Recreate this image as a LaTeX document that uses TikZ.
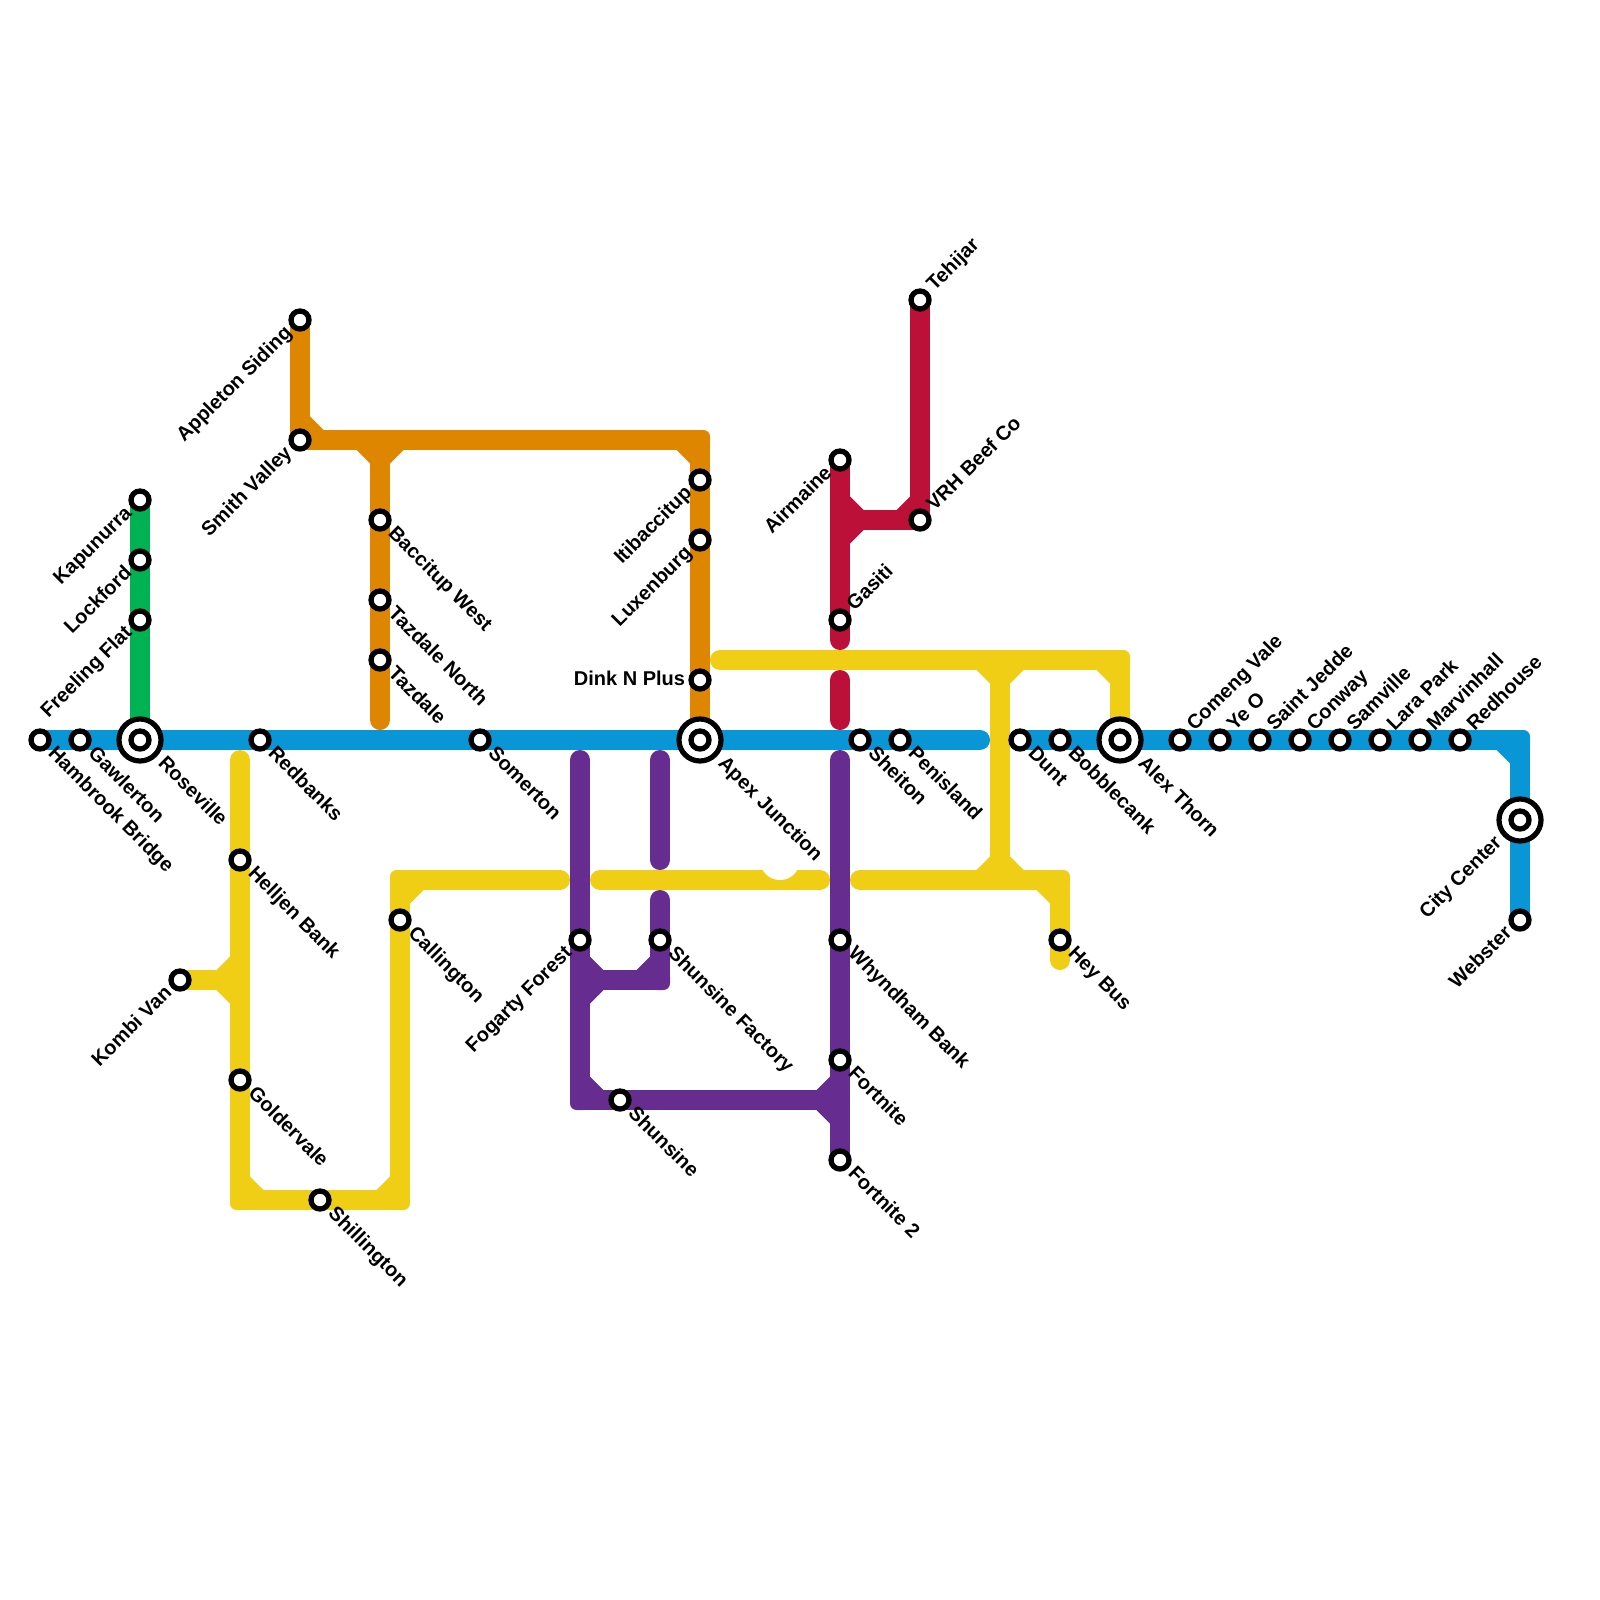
\documentclass[tikz,border=0pt]{standalone}
\usepackage{fontspec}
\setmainfont{Liberation Sans}
\pgfdeclarelayer{lines}
\pgfsetlayers{lines,main}
\definecolor{lineblue}{HTML}{0896D7}
\definecolor{lineyellow}{HTML}{F0CE15}
\definecolor{lineorange}{HTML}{DF8600}
\definecolor{linegreen}{HTML}{00B251}
\definecolor{linepurple}{HTML}{662C90}
\definecolor{linered}{HTML}{BD1038}
\tikzset{
  track/.style={line width=10pt,line cap=round,line join=round},
  stationdot/.style={circle,draw=black,fill=white,line width=2.65pt,minimum size=9pt,inner sep=0pt,outer sep=0pt},
  hubring/.style={circle,draw=black,fill=white,line width=2.6pt,minimum size=21pt,inner sep=0pt,outer sep=0pt},
  lblbase/.style={font=\bfseries\fontsize{10}{12}\selectfont,inner sep=0pt,outer sep=0pt},
  lblse/.style={lblbase,rotate=-45,anchor=mid west},
  lblne/.style={lblbase,rotate=45,anchor=mid west},
  lblsw/.style={lblbase,rotate=45,anchor=mid east},
  lblw/.style={lblbase,anchor=mid east},
}
\def\offse{11,11}\def\offne{11,-12}\def\offsw{-11,10.5}\def\offw{-15,0}
\def\bigoffse{21,21}\def\bigoffsw{-21,20}
\newcommand{\stn}[5]{%
  \node[stationdot] (#1) at (#2,#3) {};
  \node[lbl#4] (#1-l) at ([shift={(\csname off#4\endcsname)}]#1.center) {#5};}
\newcommand{\hub}[5]{%
  \node[hubring] (#1-r) at (#2,#3) {};
  \node[stationdot] (#1) at (#2,#3) {};
  \node[lbl#4] (#1-l) at ([shift={(\csname bigoff#4\endcsname)}]#1.center) {#5};}
\newcommand{\cham}[4]{%
  \fill[#1] ([shift={(#3*10,#4*10)}]#2) -- ([shift={(#3*23.5,#4*10)}]#2) -- ([shift={(#3*10,#4*23.5)}]#2) -- cycle;}
\newcommand{\crn}[2]{%
  \fill[#1,rounded corners=3.3pt] ([shift={(-10,-10)}]#2) rectangle ([shift={(10,10)}]#2);}
\begin{document}
\begin{tikzpicture}[x=0.5pt,y=-0.5pt]
\useasboundingbox (0,0) rectangle (1600,1600);
% blue stations
\stn{hambrook}{40}{740}{se}{Hambrook Bridge}
\stn{gawlerton}{80}{740}{se}{Gawlerton}
\hub{roseville}{140}{740}{se}{Roseville}
\stn{redbanks}{260}{740}{se}{Redbanks}
\stn{somerton}{480}{740}{se}{Somerton}
\hub{apex}{700}{740}{se}{Apex Junction}
\stn{sheiton}{860}{740}{se}{Sheiton}
\stn{penisland}{900}{740}{se}{Penisland}
\stn{dunt}{1020}{740}{se}{Dunt}
\stn{bobblecank}{1060}{740}{se}{Bobblecank}
\hub{alexthorn}{1120}{740}{se}{Alex Thorn}
\stn{comeng}{1180}{740}{ne}{Comeng Vale}
\stn{yeo}{1220}{740}{ne}{Ye O}
\stn{saintjedde}{1260}{740}{ne}{Saint Jedde}
\stn{conway}{1300}{740}{ne}{Conway}
\stn{samville}{1340}{740}{ne}{Samville}
\stn{larapark}{1380}{740}{ne}{Lara Park}
\stn{marvinhall}{1420}{740}{ne}{Marvinhall}
\stn{redhouse}{1460}{740}{ne}{Redhouse}
\hub{citycenter}{1520}{820}{sw}{City Center}
\stn{webster}{1520}{920}{sw}{Webster}
% green
\stn{kapunurra}{140}{500}{sw}{Kapunurra}
\stn{lockford}{140}{560}{sw}{Lockford}
\stn{freeling}{140}{620}{sw}{Freeling Flat}
% orange
\stn{appleton}{300}{320}{sw}{Appleton Siding}
\stn{smith}{300}{440}{sw}{Smith Valley}
\stn{baccitup}{380}{520}{se}{Baccitup West}
\stn{tazdalen}{380}{600}{se}{Tazdale North}
\stn{tazdale}{380}{660}{se}{Tazdale}
\stn{itibaccitup}{700}{480}{sw}{Itibaccitup}
\stn{luxenburg}{700}{540}{sw}{Luxenburg}
\stn{dink}{700}{680}{w}{Dink N Plus}
% yellow
\stn{helljen}{240}{860}{se}{Helljen Bank}
\stn{kombi}{180}{980}{sw}{Kombi Van}
\stn{goldervale}{240}{1080}{se}{Goldervale}
\stn{shillington}{320}{1200}{se}{Shillington}
\stn{callington}{400}{920}{se}{Callington}
\stn{heybus}{1060}{940}{se}{Hey Bus}
% purple
\stn{fogarty}{580}{940}{sw}{Fogarty Forest}
\stn{factory}{660}{940}{se}{Shunsine Factory}
\stn{shunsine}{620}{1100}{se}{Shunsine}
\stn{whyndham}{840}{940}{se}{Whyndham Bank}
\stn{fortnite}{840}{1060}{se}{Fortnite}
\stn{fortnitetwo}{840}{1160}{se}{Fortnite 2}
% red
\stn{airmaine}{840}{460}{sw}{Airmaine}
\stn{gasiti}{840}{620}{ne}{Gasiti}
\stn{vrh}{920}{520}{ne}{VRH Beef Co}
\stn{tehijar}{920}{300}{ne}{Tehijar}
% free ends and corners
\coordinate (bE1) at (980,740);
\coordinate (bC) at (1520,740);
\coordinate (oC) at (700,440);
\coordinate (oJ) at (380,440);
\coordinate (oE) at (380,720);
\coordinate (yA) at (720,660);
\coordinate (yB) at (1120,660);
\coordinate (yJ1) at (1000,660);
\coordinate (yJ2) at (1000,880);
\coordinate (yC) at (860,880);
\coordinate (yD) at (1060,880);
\coordinate (yE) at (1060,960);
\coordinate (yF) at (600,880);
\coordinate (yG) at (820,880);
\coordinate (yN) at (780,860);
\coordinate (yH) at (240,760);
\coordinate (yI) at (240,1200);
\coordinate (yK) at (400,1200);
\coordinate (yL) at (400,880);
\coordinate (yM) at (560,880);
\coordinate (yO) at (240,980);
\coordinate (pA) at (580,760);
\coordinate (pB) at (580,1100);
\coordinate (pC) at (840,1100);
\coordinate (pD) at (840,760);
\coordinate (pJ) at (580,980);
\coordinate (pK) at (660,980);
\coordinate (pL) at (660,900);
\coordinate (pM) at (660,760);
\coordinate (pN) at (660,860);
\coordinate (rA) at (840,640);
\coordinate (rB) at (840,680);
\coordinate (rC) at (840,720);
\coordinate (rJ) at (840,520);
\begin{pgfonlayer}{lines}
% green
\draw[track,linegreen] (kapunurra.center) -- (lockford.center) -- (freeling.center) -- (roseville.center);
% orange
\draw[track,lineorange] (appleton.center) -- (smith.center) -- (oJ) -- (oC) -- (itibaccitup.center) -- (luxenburg.center) -- (dink.center) -- (apex.center);
\draw[track,lineorange] (oJ) -- (baccitup.center) -- (tazdalen.center) -- (tazdale.center) -- (oE);
\crn{lineorange}{oC}
\cham{lineorange}{smith.center}{1}{-1}
\cham{lineorange}{oC}{-1}{1}
\cham{lineorange}{oJ}{-1}{1}
\cham{lineorange}{oJ}{1}{1}
% blue
\draw[track,lineblue] (hambrook.center) -- (gawlerton.center) -- (roseville.center) -- (redbanks.center) -- (somerton.center) -- (apex.center) -- (sheiton.center) -- (penisland.center) -- (bE1);
\draw[track,lineblue] (dunt.center) -- (bobblecank.center) -- (alexthorn.center) -- (comeng.center) -- (yeo.center) -- (saintjedde.center) -- (conway.center) -- (samville.center) -- (larapark.center) -- (marvinhall.center) -- (redhouse.center) -- (bC) -- (citycenter.center) -- (webster.center);
\crn{lineblue}{bC}
\cham{lineblue}{bC}{-1}{1}
% yellow
\draw[track,lineyellow] (yA) -- (yJ1) -- (yB) -- (alexthorn.center);
\draw[track,lineyellow] (yJ1) -- (yJ2);
\draw[track,lineyellow] (yC) -- (yJ2) -- (yD) -- (heybus.center) -- (yE);
\draw[track,lineyellow] (yF) -- (yG);
\fill[white] (yN) circle (10pt);
\draw[track,lineyellow] (yH) -- (helljen.center) -- (yO) -- (goldervale.center) -- (yI) -- (shillington.center) -- (yK) -- (callington.center) -- (yL) -- (yM);
\draw[track,lineyellow] (kombi.center) -- (yO);
\crn{lineyellow}{yB}
\crn{lineyellow}{yD}
\crn{lineyellow}{yI}
\crn{lineyellow}{yK}
\crn{lineyellow}{yL}
\cham{lineyellow}{yJ1}{-1}{1}
\cham{lineyellow}{yJ1}{1}{1}
\cham{lineyellow}{yB}{-1}{1}
\cham{lineyellow}{yJ2}{-1}{-1}
\cham{lineyellow}{yJ2}{1}{-1}
\cham{lineyellow}{yD}{-1}{1}
\cham{lineyellow}{yO}{-1}{-1}
\cham{lineyellow}{yO}{-1}{1}
\cham{lineyellow}{yI}{1}{-1}
\cham{lineyellow}{yK}{-1}{-1}
\cham{lineyellow}{yL}{1}{1}
% purple
\draw[track,linepurple] (pA) -- (fogarty.center) -- (pJ) -- (pB) -- (shunsine.center) -- (pC);
\draw[track,linepurple] (pD) -- (whyndham.center) -- (fortnite.center) -- (pC) -- (fortnitetwo.center);
\draw[track,linepurple] (pJ) -- (pK) -- (factory.center) -- (pL);
\draw[track,linepurple] (pM) -- (pN);
\crn{linepurple}{pB}
\crn{linepurple}{pK}
\cham{linepurple}{pJ}{1}{-1}
\cham{linepurple}{pJ}{1}{1}
\cham{linepurple}{pK}{-1}{-1}
\cham{linepurple}{pB}{1}{-1}
\cham{linepurple}{pC}{-1}{-1}
\cham{linepurple}{pC}{-1}{1}
% red
\draw[track,linered] (airmaine.center) -- (rJ) -- (gasiti.center) -- (rA);
\draw[track,linered] (rB) -- (rC);
\draw[track,linered] (rJ) -- (vrh.center) -- (tehijar.center);
\crn{linered}{vrh.center}
\cham{linered}{rJ}{1}{-1}
\cham{linered}{rJ}{1}{1}
\cham{linered}{vrh.center}{-1}{-1}
\end{pgfonlayer}
\end{tikzpicture}
\end{document}
